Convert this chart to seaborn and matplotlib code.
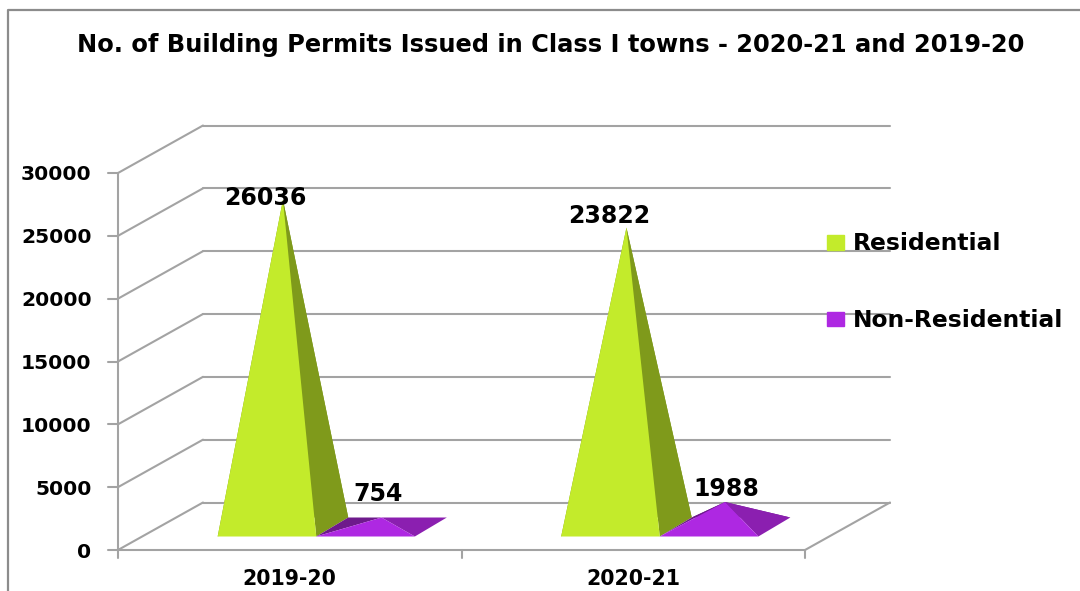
import matplotlib
matplotlib.use('Agg')
import matplotlib.pyplot as plt
import seaborn as sns
import pandas as pd
from matplotlib.patches import Patch
from matplotlib.lines import Line2D

# Data
years = ['2019-20', '2020-21']
residential = [26036, 23822]
non_residential = [754, 1988]
y_ticks = [0, 5000, 10000, 15000, 20000, 25000, 30000]
title = 'No. of Building Permits Issued in Class I towns - 2020-21 and 2019-20'

FONT = 'DejaVu Sans'
GRID = '#a3a3a3'
GREEN = ['#c3eb2b', '#7f9a1b']
PURPLE = ['#ae28e2', '#8b1fb0', '#6e1a8c']

# Value label nudges from each apex, in pixels
label_nudge = [(-18, -5), (-17, 5), (-3, 17), (1, 6)]

sns.set_theme(style='white')
plt.rcParams['font.family'] = FONT
plt.rcParams['font.weight'] = 'bold'

df = pd.DataFrame({
    'year': years * 2,
    'kind': ['Residential'] * 2 + ['Non-Residential'] * 2,
    'permits': residential + non_residential,
})

W, H = 1080, 591
fig = plt.figure(figsize=(W / 100, H / 100), dpi=100)
ax = fig.add_axes([118 / W, 1 - 550 / H, 687 / W, 377 / H])

# seaborn works out the bar slots, the bars are then redrawn as pyramids
sns.barplot(data=df, x='year', y='permits', hue='kind', width=0.574, gap=0,
            dodge=True, legend=False, ax=ax)
ax.set_xlim(-0.5, 1.5)
ax.set_ylim(0, 30000)

# Pixel sizes of the fake depth, in data units
PX = 2 / 687
PY = 30000 / 377
wall_dx, wall_dy = 85 * PX, 47.5 * PY
front_dx, front_dy = 26.5 * PX, 13.5 * PY
back_dx, back_dy = 58.5 * PX, 32.5 * PY
mid_dx, mid_dy = (front_dx + back_dx) / 2, (front_dy + back_dy) / 2


def line(xs, ys):
    ax.add_line(Line2D(xs, ys, color=GRID, lw=1.5, clip_on=False, zorder=0.5))


# Walls and floor
for t in y_ticks:
    line([-0.5, -0.5 + wall_dx], [t, t + wall_dy])
    line([-0.5 + wall_dx, 1.5 + wall_dx], [t + wall_dy, t + wall_dy])
line([1.5, 1.5 + wall_dx], [0, wall_dy])
line([-0.5, 1.5], [0, 0])
line([-0.5, -0.5], [0, 30000])

# Tick marks
for t in y_ticks:
    line([-0.5 - 10 * PX, -0.5], [t, t])
for x in [-0.5, 0.5, 1.5]:
    line([x, x], [0, -8 * PY])


def pyramid(left, width, value, colors):
    right = left + width
    fl = (left + front_dx, front_dy)
    fr = (right + front_dx, front_dy)
    bl = (left + back_dx, back_dy)
    br = (right + back_dx, back_dy)
    apex = (left + width / 2 + mid_dx, mid_dy + value)
    dark = colors[2] if len(colors) > 2 else colors[1]
    ax.fill(*zip(fl, bl, apex), color=dark, lw=0, clip_on=False)
    ax.fill(*zip(bl, br, apex), color=dark, lw=0, clip_on=False)
    ax.fill(*zip(fr, br, apex), color=colors[1], lw=0, clip_on=False)
    ax.fill(*zip(fl, fr, apex), color=colors[0], lw=0, clip_on=False)
    return apex


bars = list(ax.patches)
values = residential + non_residential
for i, bar in enumerate(bars[:4]):
    bar.set_visible(False)
    colors = GREEN if i < 2 else PURPLE
    apex = pyramid(bar.get_x(), bar.get_width(), values[i], colors)
    nx, ny = label_nudge[i]
    ax.text(apex[0] + nx * PX, apex[1] + ny * PY, str(values[i]),
            ha='center', va='baseline', fontsize=17, color='black', clip_on=False)

# Axes text
sns.despine(ax=ax, left=True, bottom=True)
ax.set_xlabel('')
ax.set_ylabel('')
ax.set_yticks(y_ticks)
ax.tick_params(axis='y', length=0, pad=19, labelsize=14.6, labelcolor='black')
ax.tick_params(axis='x', length=0, pad=14, labelsize=14.8, labelcolor='black')

# Legend
handles = [Patch(color=GREEN[0], label='Residential'), Patch(color=PURPLE[0], label='Non-Residential')]
fig.legend(handles=handles, loc='upper left', bbox_to_anchor=(827 / W, 1 - 232.5 / H),
           frameon=False, handlelength=0.73, handleheight=0.6, handletextpad=0.39,
           labelspacing=2.3, fontsize=16.8, labelcolor='black', borderpad=0, borderaxespad=0)

fig.text(550.5 / W, 1 - 45 / H, title, ha='center', va='center', fontsize=17.4, color='black')

# Chart border
fig.add_artist(Line2D([7.5 / W, 7.5 / W, 1], [0, 1 - 9.5 / H, 1 - 9.5 / H], color='#8c8c8c', lw=1.6))

fig.savefig('out.png', dpi=100)
